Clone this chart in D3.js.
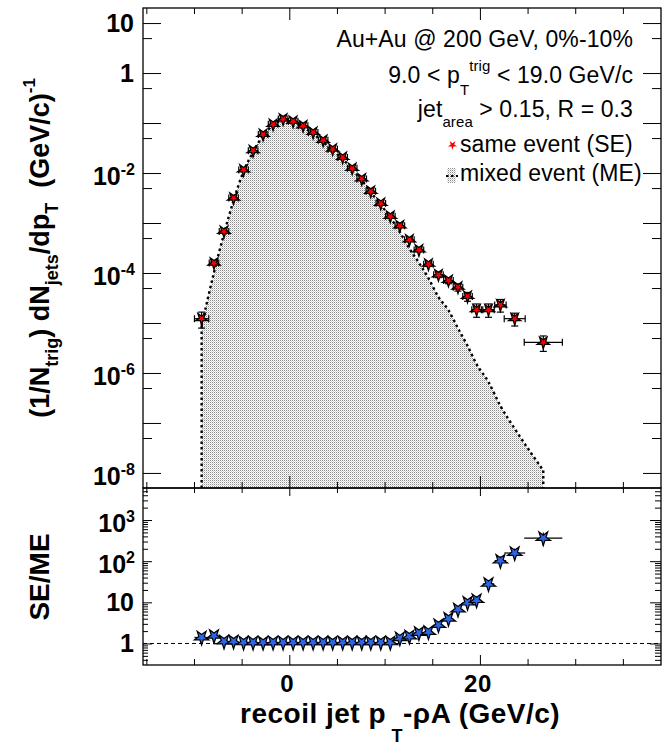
<!DOCTYPE html>
<html>
<head>
<meta charset="utf-8">
<script src="https://cdn.jsdelivr.net/npm/d3@7"></script>
<style>
  body { margin: 0; background: #fff; }
  svg { display: block; }
  text { font-family: "Liberation Sans", Arial, Helvetica, sans-serif; white-space: pre; }
</style>
</head>
<body>
<svg id="chart" width="662" height="747"></svg>
<script>
// bin centres (GeV/c) and half widths
const binX = [-9.2, -7.9, -6.85, -5.85, -4.8, -3.8, -2.75, -1.7, -0.65, 0.4, 1.45, 2.5, 3.55, 4.55, 5.6, 6.6, 7.6, 8.55, 9.6, 10.6,
              11.6, 12.6, 13.6, 14.6, 15.65, 16.7, 17.7, 18.7, 19.65, 20.9, 22.15, 23.65, 26.65];
const binXErr = [0.75, 0.5, 0.5, 0.5, 0.5, 0.5, 0.5, 0.5, 0.5, 0.5, 0.5, 0.5, 0.5, 0.5, 0.5, 0.5, 0.5, 0.5, 0.5, 0.5,
                 0.5, 0.5, 0.5, 0.5, 0.5, 0.5, 0.5, 0.5, 0.5, 0.6, 0.6, 1.1, 2.0];

// same event (SE)
const seY = [1.22e-5, 1.58e-4, 6.8e-4, 3.16e-3, 1.15e-2, 2.79e-2, 5.9e-2, 9.4e-2, 0.12, 0.108, 0.088, 0.065, 0.045, 0.030, 0.0205, 0.0124, 7.6e-3, 4.3e-3, 2.47e-3, 1.36e-3,
             8.8e-4, 4.6e-4, 2.9e-4, 1.5e-4, 9.2e-5, 7.1e-5, 5.2e-5, 3.4e-5, 1.85e-5, 1.85e-5, 2.3e-5, 1.22e-5, 4.1e-6];
const seErr = [4.3e-6, 1.3e-5, 2.7e-5, 6e-5, 1.2e-4, 2.8e-4, 5e-4, 8e-4, 1e-3, 9e-4, 8e-4, 6e-4, 4.5e-4, 3e-4, 2.5e-4, 1.8e-4, 1.3e-4, 9e-5, 6e-5, 4.5e-5,
               4e-5, 2.8e-5, 2.3e-5, 1.5e-5, 1.1e-5, 1e-5, 8.5e-6, 6.8e-6, 5.5e-6, 5.5e-6, 6.5e-6, 3.5e-6, 1.4e-6];

// mixed event (ME)
const meY = [8.7e-6, 1.03e-4, 6.1e-4, 2.8e-3, 1.08e-2, 2.63e-2, 5.6e-2, 8.9e-2, 0.113, 0.102, 0.083, 0.061, 0.042, 0.028, 0.0193, 0.0117, 7.2e-3, 4.1e-3, 2.33e-3, 1.28e-3,
             6.6e-4, 3.1e-4, 1.6e-4, 7.9e-5, 3.3e-5, 1.8e-5, 7.8e-6, 3.5e-6, 1.5e-6, 6.6e-7, 2.2e-7, 7.7e-8, 1.12e-8];

// SE/ME
const ratioY = [1.4, 1.53, 1.12, 1.12, 1.06, 1.06, 1.05, 1.06, 1.06, 1.06, 1.06, 1.06, 1.06, 1.06, 1.06, 1.06, 1.06, 1.06, 1.06, 1.06,
                1.34, 1.48, 1.8, 1.9, 2.8, 4.0, 6.7, 9.8, 11.3, 28, 103, 158, 365];
const ratioErr = [0.25, 0.15, 0.05, 0.03, 0.02, 0.02, 0.02, 0.02, 0.02, 0.02, 0.02, 0.02, 0.02, 0.02, 0.02, 0.02, 0.02, 0.02, 0.02, 0.02,
                  0.06, 0.08, 0.12, 0.15, 0.3, 0.5, 1.0, 1.8, 2.5, 7, 28, 45, 130];

// axis ticks
const xMajor = [0, 20];
const xMinor = [-15, -10, -5, 5, 10, 15, 25, 30, 35];
const topMajor = [10, 1, 0.1, 1e-2, 1e-3, 1e-4, 1e-5, 1e-6, 1e-7, 1e-8];
const topMinor = [5, 0.5, 0.05, 5e-3, 5e-4, 5e-5, 5e-6, 5e-7, 5e-8];
const topLabelVals = [10, 1, 1e-2, 1e-4, 1e-6, 1e-8];
const topLabelExp = ["", "", "-2", "-4", "-6", "-8"];
const botMajor = [1, 10, 100, 1000];
const botLabelExp = ["", "", "2", "3"];
const botMinor = [0.4, 0.5, 0.6, 0.7, 0.8, 0.9, 2, 3, 4, 5, 6, 7, 8, 9, 20, 30, 40, 50, 60, 70, 80, 90,
                  200, 300, 400, 500, 600, 700, 800, 900, 2000, 3000, 4000, 5000];

// ####################################################################
const svg = d3.select("#chart");
const L = 143, R = 661, T1 = 8, B1 = 488, B2 = 665;

const xScale = d3.scaleLinear().domain([-15.35, 39.0]).range([L, R]);
const yTop = d3.scaleLog().domain([5e-9, 20]).range([B1, T1]);
const yBot = d3.scaleLog().domain([0.3, 6000]).range([B2, B1]);

// dotted fill like ROOT pattern
const defs = svg.append("defs");
const pat = defs.append("pattern").attr("id", "dots").attr("width", 2).attr("height", 2)
  .attr("patternUnits", "userSpaceOnUse");
pat.append("rect").attr("width", 2).attr("height", 2).attr("fill", "#ffffff");
pat.append("rect").attr("width", 1).attr("height", 1).attr("fill", "#8a8a8a");
pat.append("rect").attr("x", 1).attr("y", 1).attr("width", 1).attr("height", 1).attr("fill", "#d2d2d2");

defs.append("clipPath").attr("id", "clipTop").append("rect")
  .attr("x", L).attr("y", T1).attr("width", R - L).attr("height", B1 - T1);
defs.append("clipPath").attr("id", "clipBot").append("rect")
  .attr("x", L).attr("y", B1).attr("width", R - L).attr("height", B2 - B1);

// rich text with sub/superscripts
function rich(g, x, y, parts, o) {
  const t = g.append("text").attr("x", x).attr("y", y)
    .attr("text-anchor", o.anchor || "start")
    .attr("font-weight", o.weight || "normal")
    .attr("font-size", o.size)
    .attr("letter-spacing", o.ls || 0)
    .attr("fill", "#000");
  if (o.rotate) t.attr("transform", `rotate(-90,${x},${y})`);
  let cur = 0;
  parts.forEach(p => {
    const off = p.off || 0;
    t.append("tspan").attr("dy", off - cur).attr("font-size", p.size || o.size).text(p.t);
    cur = off;
  });
  return t;
}

const meData = binX.map((x, i) => ({x: x, y: meY[i]}));
const seData = binX.map((x, i) => ({x: x, xe: binXErr[i], y: seY[i], ye: seErr[i]}));
const rData = binX.map((x, i) => ({x: x, xe: binXErr[i], y: ratioY[i], ye: ratioErr[i]}));

// ###################################################
// Top panel: ME filled curve
const gTop = svg.append("g").attr("clip-path", "url(#clipTop)");

gTop.append("path")
  .datum(meData)
  .attr("d", d3.area().x(d => xScale(d.x)).y0(B1).y1(d => yTop(d.y)).curve(d3.curveMonotoneX))
  .attr("fill", "url(#dots)");

gTop.append("path")
  .datum(meData)
  .attr("d", d3.line().x(d => xScale(d.x)).y(d => yTop(d.y)).curve(d3.curveMonotoneX))
  .attr("fill", "none").attr("stroke", "#000").attr("stroke-width", 2.4).attr("stroke-dasharray", "2.5,3");

[meData[0], meData[meData.length - 1]].forEach(d => {
  gTop.append("line")
    .attr("x1", xScale(d.x)).attr("x2", xScale(d.x))
    .attr("y1", yTop(d.y)).attr("y2", B1)
    .attr("stroke", "#000").attr("stroke-width", 2.4).attr("stroke-dasharray", "2.5,3");
});

// SE error bars with caps
const eb = gTop.append("g").attr("stroke", "#000").attr("stroke-width", 1.2);
seData.forEach(d => {
  const cx = xScale(d.x), cy = yTop(d.y);
  const yHi = yTop(d.y + d.ye), yLo = yTop(Math.max(d.y - d.ye, 6e-9));
  const xl = xScale(d.x - d.xe), xr = xScale(d.x + d.xe);
  eb.append("line").attr("x1", cx).attr("x2", cx).attr("y1", yHi).attr("y2", yLo);
  eb.append("line").attr("x1", cx - 3.5).attr("x2", cx + 3.5).attr("y1", yHi).attr("y2", yHi);
  eb.append("line").attr("x1", cx - 3.5).attr("x2", cx + 3.5).attr("y1", yLo).attr("y2", yLo);
  eb.append("line").attr("x1", xl).attr("x2", xr).attr("y1", cy).attr("y2", cy);
  eb.append("line").attr("x1", xl).attr("x2", xl).attr("y1", cy - 3.5).attr("y2", cy + 3.5);
  eb.append("line").attr("x1", xr).attr("x2", xr).attr("y1", cy - 3.5).attr("y2", cy + 3.5);
});

gTop.selectAll("path.se")
  .data(seData)
  .join("path")
    .attr("class", "se")
    .attr("transform", d => `translate(${xScale(d.x)},${yTop(d.y)}) rotate(180)`)
    .attr("d", d3.symbol(d3.symbolStar, 46))
    .attr("fill", "#ff0000").attr("stroke", "#000").attr("stroke-width", 1.3);

// ###################################################
// Bottom panel: ratio
const gBot = svg.append("g").attr("clip-path", "url(#clipBot)");

gBot.append("line")
  .attr("x1", L).attr("x2", R).attr("y1", yBot(1)).attr("y2", yBot(1))
  .attr("stroke", "#000").attr("stroke-width", 1).attr("stroke-dasharray", "4,3");

const eb2 = gBot.append("g").attr("stroke", "#000").attr("stroke-width", 1.2);
rData.forEach(d => {
  const cx = xScale(d.x), cy = yBot(d.y);
  eb2.append("line").attr("x1", cx).attr("x2", cx).attr("y1", yBot(d.y + d.ye)).attr("y2", yBot(d.y - d.ye));
  eb2.append("line").attr("x1", xScale(d.x - d.xe)).attr("x2", xScale(d.x + d.xe)).attr("y1", cy).attr("y2", cy);
});

gBot.selectAll("path.ratio")
  .data(rData)
  .join("path")
    .attr("class", "ratio")
    .attr("transform", d => `translate(${xScale(d.x)},${yBot(d.y)}) rotate(180)`)
    .attr("d", d3.symbol(d3.symbolStar, 64))
    .attr("fill", "#2f66e6").attr("stroke", "#000").attr("stroke-width", 1.2);

// ###################################################
// axes (ticks only, pointing inwards)
function ticks(axis, tr, size) {
  const g = svg.append("g").attr("transform", tr).call(axis.tickSize(size).tickFormat(""));
  g.select(".domain").remove();
  g.selectAll(".tick line").attr("stroke", "#000").attr("stroke-width", 1);
}
// top panel
ticks(d3.axisRight(yTop).tickValues(topMajor), `translate(${L},0)`, 18);
ticks(d3.axisRight(yTop).tickValues(topMinor), `translate(${L},0)`, 9);
ticks(d3.axisLeft(yTop).tickValues(topMajor), `translate(${R},0)`, 18);
ticks(d3.axisLeft(yTop).tickValues(topMinor), `translate(${R},0)`, 9);
ticks(d3.axisBottom(xScale).tickValues(xMajor), `translate(0,${T1})`, 12);
ticks(d3.axisBottom(xScale).tickValues(xMinor), `translate(0,${T1})`, 6);
ticks(d3.axisTop(xScale).tickValues(xMajor), `translate(0,${B1})`, 12);
ticks(d3.axisTop(xScale).tickValues(xMinor), `translate(0,${B1})`, 6);
// bottom panel
ticks(d3.axisRight(yBot).tickValues(botMajor), `translate(${L},0)`, 9);
ticks(d3.axisRight(yBot).tickValues(botMinor), `translate(${L},0)`, 5);
ticks(d3.axisLeft(yBot).tickValues(botMajor), `translate(${R},0)`, 11);
ticks(d3.axisLeft(yBot).tickValues(botMinor), `translate(${R},0)`, 6);
ticks(d3.axisBottom(xScale).tickValues(xMajor), `translate(0,${B1})`, 8);
ticks(d3.axisBottom(xScale).tickValues(xMinor), `translate(0,${B1})`, 5);
ticks(d3.axisTop(xScale).tickValues(xMajor), `translate(0,${B2})`, 10);
ticks(d3.axisTop(xScale).tickValues(xMinor), `translate(0,${B2})`, 6);

// frames
svg.append("rect").attr("x", L).attr("y", T1).attr("width", R - L).attr("height", B1 - T1)
  .attr("fill", "none").attr("stroke", "#000").attr("stroke-width", 1.3);
svg.append("rect").attr("x", L).attr("y", B1).attr("width", R - L).attr("height", B2 - B1)
  .attr("fill", "none").attr("stroke", "#000").attr("stroke-width", 1.3);

// ###################################################
// tick labels
const labels = svg.append("g");
function powLabels(vals, exps, scale) {
  vals.forEach((v, i) => {
    const y = scale(v);
    if (exps[i] === "") {
      rich(labels, 134, y + 9, [{t: String(v)}], {anchor: "end", weight: "bold", size: 25});
    } else {
      rich(labels, 135, y + 12, [{t: "10"}, {t: exps[i], size: 16, off: -10}], {anchor: "end", weight: "bold", size: 25});
    }
  });
}
powLabels(topLabelVals, topLabelExp, yTop);
powLabels(botMajor, botLabelExp, yBot);

xMajor.forEach(v => {
  rich(labels, xScale(v) - 2, 692, [{t: String(v)}], {anchor: "middle", weight: "bold", size: 24, ls: 0.5});
});

// axis titles
rich(svg, 49, 248, [
  {t: "(1/N"}, {t: "trig", size: 18, off: 9}, {t: ") dN"}, {t: "jets", size: 18, off: 9},
  {t: "/dp"}, {t: "T", size: 18, off: 9}, {t: "  (GeV/c)"}, {t: "-1", size: 17, off: -14}
], {anchor: "middle", weight: "bold", size: 27, rotate: true});

rich(svg, 49, 577, [{t: "SE/ME"}], {anchor: "middle", weight: "bold", size: 28, rotate: true});

rich(svg, 240, 723, [
  {t: "recoil jet p"}, {t: " T", size: 18, off: 19}, {t: "-ρA (GeV/c)"}
], {anchor: "start", weight: "bold", size: 28, ls: 0.5});

// ###################################################
// legend / labels
const leg = svg.append("g");
const legSize = 23, legLs = 0.1;
rich(leg, 633, 47, [{t: "Au+Au @ 200 GeV, 0%-10%"}], {anchor: "end", size: legSize, ls: legLs});
rich(leg, 633, 83, [{t: "9.0 < p"}, {t: "T", size: 15, off: 12}, {t: "trig", size: 15, off: -12}, {t: " < 19.0 GeV/c"}],
  {anchor: "end", size: legSize, ls: legLs});
rich(leg, 633, 117, [{t: "jet"}, {t: "area", size: 15, off: 10}, {t: " > 0.15, R = 0.3"}], {anchor: "end", size: legSize, ls: legLs});

leg.append("path")
  .attr("transform", "translate(452.5,145) rotate(180)")
  .attr("d", d3.symbol(d3.symbolStar, 26))
  .attr("fill", "#ff0000").attr("stroke", "none");
rich(leg, 460, 152, [{t: "same event (SE)"}], {anchor: "start", size: legSize, ls: legLs});

leg.append("rect").attr("x", 447).attr("y", 168).attr("width", 9).attr("height", 15).attr("fill", "url(#dots)");
leg.append("line").attr("x1", 446).attr("x2", 458).attr("y1", 176).attr("y2", 176)
  .attr("stroke", "#000").attr("stroke-width", 2).attr("stroke-dasharray", "2.5,2.5");
rich(leg, 460, 181, [{t: "mixed event (ME)"}], {anchor: "start", size: legSize, ls: legLs});
</script>
</body>
</html>
